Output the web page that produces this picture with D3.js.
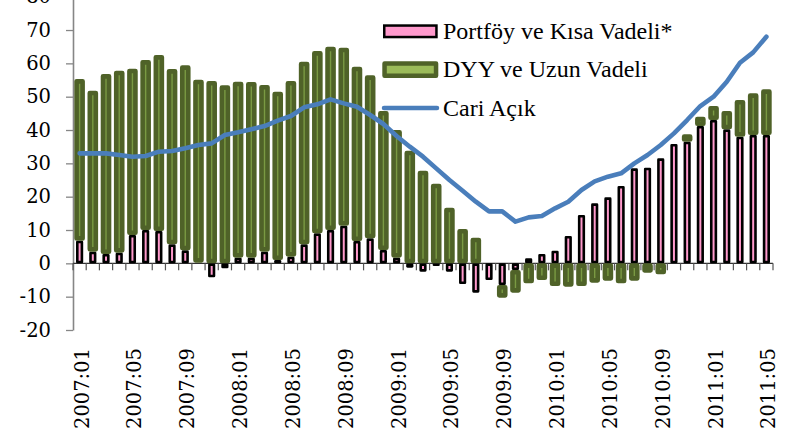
<!DOCTYPE html>
<html>
<head>
<meta charset="utf-8">
<script src="https://cdn.jsdelivr.net/npm/d3@7"></script>
<style>
  body { margin: 0; background: #fff; }
  svg { display: block; }
  .tick-label { font-family: "DejaVu Serif", serif; font-size: 19.5px; fill: #000; }
  .legend-label { font-family: "Liberation Serif", serif; font-size: 24px; fill: #000; }
</style>
</head>
<body>
<div id="chart"></div>
<script>
// monthly categories 2007:01 - 2011:05
var months = [
  "2007:01","2007:02","2007:03","2007:04","2007:05","2007:06","2007:07","2007:08","2007:09","2007:10","2007:11","2007:12",
  "2008:01","2008:02","2008:03","2008:04","2008:05","2008:06","2008:07","2008:08","2008:09","2008:10","2008:11","2008:12",
  "2009:01","2009:02","2009:03","2009:04","2009:05","2009:06","2009:07","2009:08","2009:09","2009:10","2009:11","2009:12",
  "2010:01","2010:02","2010:03","2010:04","2010:05","2010:06","2010:07","2010:08","2010:09","2010:10","2010:11","2010:12",
  "2011:01","2011:02","2011:03","2011:04","2011:05"
];

// Portföy ve Kısa Vadeli*
var portfoy = [
  6.8, 3.5, 2.8, 3.2, 8.5, 10.0, 9.7, 5.7, 3.9, 0.2, -4.2, -1.5,
  1.7, 1.7, 3.5, 1.0, 2.0, 5.7, 9.0, 10.0, 11.3, 6.7, 7.5, 4.0,
  1.7, -1.3, -2.5, -0.8, -2.5, -6.2, -8.8, -5.0, -6.5, -2.0, 1.5, 2.8,
  3.8, 8.2, 14.5, 18.0, 19.8, 23.2, 28.5, 28.7, 31.5, 35.8, 36.5, 41.2,
  43.0, 40.2, 38.0, 38.5, 38.5
];

// DYY ve Uzun Vadeli
var dyy = [
  48.5, 48.3, 54.0, 54.6, 49.9, 51.0, 52.8, 52.6, 55.5, 54.9, 54.7, 53.4,
  52.8, 52.7, 50.0, 50.5, 52.7, 54.8, 54.7, 55.0, 53.4, 52.3, 48.9, 41.7,
  38.3, 33.8, 27.8, 23.9, 16.7, 10.3, 7.7, 1.2, -3.8, -6.8, -6.0, -5.0,
  -6.8, -7.0, -6.8, -5.8, -5.2, -6.0, -5.2, -2.8, -3.3, -1.2, 2.2, 2.8,
  4.2, 5.5, 11.0, 12.5, 13.7
];

// Cari Açık
var cariAcik = [
  33.0, 33.0, 33.0, 32.5, 32.0, 32.2, 33.5, 33.7, 34.5, 35.5, 36.0, 38.5,
  39.3, 40.2, 41.2, 42.8, 44.2, 46.8, 47.7, 49.2, 48.0, 47.0, 44.5, 41.8,
  38.2, 35.0, 32.0, 28.5, 25.0, 21.8, 18.5, 15.6, 15.6, 12.5, 13.8, 14.2,
  16.5, 18.5, 22.0, 24.6, 26.0, 27.0, 30.0, 32.5, 35.5, 39.0, 43.0, 47.2,
  50.0, 54.5, 60.2, 63.3, 68.0
];

var yTicks = [-20, -10, 0, 10, 20, 30, 40, 50, 60, 70, 80];
var xTickLabels = months.filter(function (d, i) { return i % 4 === 0; });
var legendLabels = ["Portföy ve Kısa Vadeli*", "DYY ve Uzun Vadeli", "Cari Açık"];

var width = 792, height = 434;
var plot = { left: 73, right: 773, top: -3.3, bottom: 330 };

var pinkFill = "#FF99CC", greenDark = "#4F6228", greenLight = "#9BBB59", blue = "#4A7EBB";

var svg = d3.select("#chart").append("svg")
  .attr("width", width)
  .attr("height", height);

var x = d3.scaleBand().domain(months).range([plot.left, plot.right]).padding(0);
var y = d3.scaleLinear().domain([-20, 80]).range([plot.bottom, plot.top]);

// y axis
var yAxis = svg.append("g")
  .attr("transform", "translate(" + plot.left + ",0)")
  .call(d3.axisLeft(y).tickValues(yTicks).tickSize(7).tickSizeOuter(0).tickPadding(15)
    .tickFormat(function (d) { return String(d); }));
yAxis.select(".domain").attr("stroke", "#868686").attr("stroke-width", 1.6);
yAxis.selectAll(".tick line").attr("stroke", "#868686").attr("stroke-width", 1.3);
yAxis.selectAll(".tick text").attr("class", "tick-label").attr("font-family", null).attr("font-size", null);

// zero line with category ticks
var xAxis = svg.append("g");
xAxis.append("line")
  .attr("x1", plot.left).attr("x2", plot.right)
  .attr("y1", y(0)).attr("y2", y(0))
  .attr("stroke", "#333").attr("stroke-width", 1.2);
var edges = months.map(function (d) { return x(d); }).concat([plot.right]);
xAxis.selectAll(".xtick")
  .data(edges)
  .enter().append("line")
  .attr("class", "xtick")
  .attr("x1", function (d) { return d; }).attr("x2", function (d) { return d; })
  .attr("y1", y(0)).attr("y2", y(0) + 7)
  .attr("stroke", "#555").attr("stroke-width", 1.2);

// month labels along the bottom
svg.selectAll(".xlabel")
  .data(xTickLabels)
  .enter().append("text")
  .attr("class", "tick-label")
  .attr("text-anchor", "end")
  .attr("transform", function (d) {
    return "translate(" + (x(d) + x.bandwidth() / 2 + 9) + "," + (plot.bottom + 18) + ") rotate(-90)";
  })
  .text(function (d) { return d; });

// stacked bars
var table = months.map(function (m, i) {
  return { month: m, portfoy: portfoy[i], dyy: dyy[i] };
});
var series = d3.stack().keys(["portfoy", "dyy"]).offset(d3.stackOffsetDiverging)(table);

function barRect(sel, outerW, sw) {
  sel.attr("x", function (d) { return x(d.data.month) + x.bandwidth() / 2 - outerW / 2 + sw / 2; })
    .attr("width", outerW - sw)
    .attr("y", function (d) { return Math.min(y(d[0]), y(d[1])) + sw / 2; })
    .attr("height", function (d) { return Math.max(0, Math.abs(y(d[0]) - y(d[1])) - sw); })
    .attr("stroke-width", sw)
    .attr("stroke-linejoin", "round");
}

svg.append("g").selectAll("rect")
  .data(series[0])
  .enter().append("rect")
  .attr("fill", pinkFill)
  .attr("stroke", "#000")
  .call(barRect, 7.2, 2.6);

svg.append("g").selectAll("rect")
  .data(series[1])
  .enter().append("rect")
  .attr("fill", "#7A9A43")
  .attr("stroke", greenDark)
  .call(barRect, 10.6, 4.6);

// current account line
var line = d3.line()
  .x(function (d, i) { return x(months[i]) + x.bandwidth() / 2; })
  .y(function (d) { return y(d); });

svg.append("path")
  .datum(cariAcik)
  .attr("d", line)
  .attr("fill", "none")
  .attr("stroke", blue)
  .attr("stroke-width", 4.6)
  .attr("stroke-linejoin", "round")
  .attr("stroke-linecap", "round");

// legend
var legX = 383, legTextX = 443, legRow = 38.3, legTop = 31.3;
var legend = svg.append("g");

legend.append("rect")
  .attr("x", legX + 1.25).attr("y", legTop - 7 + 1.25)
  .attr("width", 52.2).attr("height", 11.5)
  .attr("fill", pinkFill).attr("stroke", "#000").attr("stroke-width", 2.5);

legend.append("rect")
  .attr("x", legX + 1.55).attr("y", legTop + legRow - 8.3 + 2.25)
  .attr("width", 51.5).attr("height", 12.1)
  .attr("fill", greenLight).attr("stroke", greenDark).attr("stroke-width", 4.5)
  .attr("stroke-linejoin", "round");

legend.append("line")
  .attr("x1", legX + 1).attr("x2", legX + 54)
  .attr("y1", legTop + 2 * legRow).attr("y2", legTop + 2 * legRow)
  .attr("stroke", blue).attr("stroke-width", 4.5).attr("stroke-linecap", "round");

legend.selectAll("text")
  .data(legendLabels)
  .enter().append("text")
  .attr("class", "legend-label")
  .attr("x", legTextX)
  .attr("y", function (d, i) { return legTop + i * legRow + 7.8; })
  .text(function (d) { return d; });
</script>
</body>
</html>
